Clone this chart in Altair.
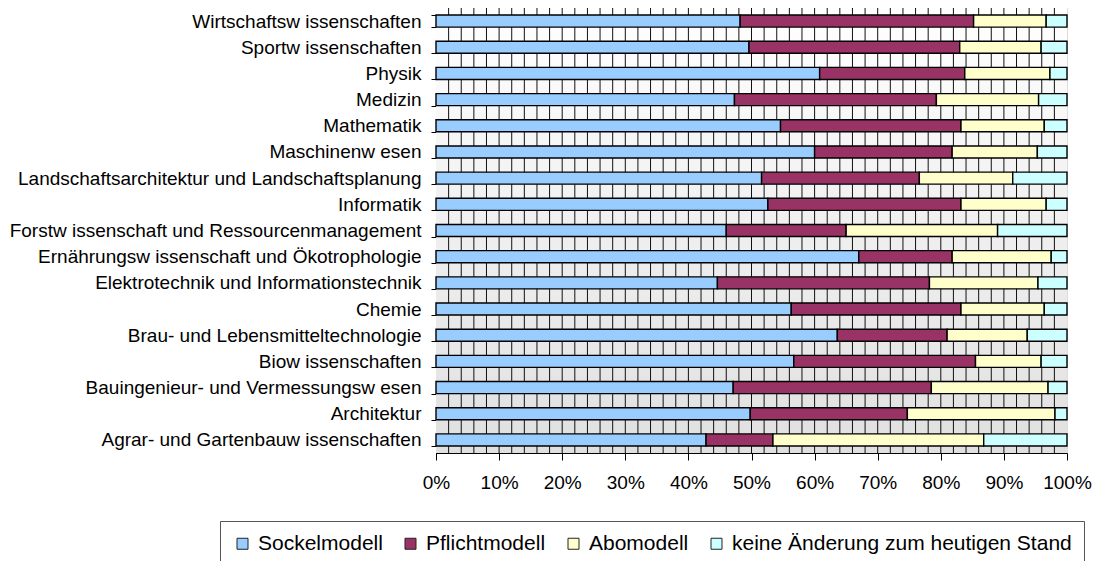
import altair as alt
import pandas as pd

CATEGORIES = [
    "Wirtschaftsw issenschaften",
    "Sportw issenschaften",
    "Physik",
    "Medizin",
    "Mathematik",
    "Maschinenw esen",
    "Landschaftsarchitektur und Landschaftsplanung",
    "Informatik",
    "Forstw issenschaft und Ressourcenmanagement",
    "Ernährungsw issenschaft und Ökotrophologie",
    "Elektrotechnik und Informationstechnik",
    "Chemie",
    "Brau- und Lebensmitteltechnologie",
    "Biow issenschaften",
    "Bauingenieur- und Vermessungsw esen",
    "Architektur",
    "Agrar- und Gartenbauw issenschaften",
]

SERIES = ["Sockelmodell", "Pflichtmodell", "Abomodell", "keine Änderung zum heutigen Stand"]
COLORS = ["#99CCFF", "#993366", "#FFFFCC", "#CCFFFF"]

SOCKEL = [48.2, 49.6, 60.8, 47.3, 54.6, 60.0, 51.6, 52.6, 46.0, 67.0, 44.6, 56.3, 63.6, 56.7, 47.1, 49.8, 42.8]
PFLICHT = [37.0, 33.4, 23.0, 32.0, 28.6, 21.8, 25.0, 30.6, 19.0, 14.8, 33.6, 26.9, 17.4, 28.8, 31.4, 24.9, 10.6]
ABO = [11.5, 12.9, 13.5, 16.2, 13.2, 13.5, 14.8, 13.5, 24.0, 15.7, 17.2, 13.2, 12.7, 10.4, 18.5, 23.4, 33.4]
KEINE = [3.3, 4.1, 2.7, 4.5, 3.6, 4.7, 8.6, 3.3, 11.0, 2.5, 4.6, 3.6, 6.3, 4.1, 3.0, 1.9, 13.2]

X_TICKS = [0, 0.1, 0.2, 0.3, 0.4, 0.5, 0.6, 0.7, 0.8, 0.9, 1.0]
GRID_LINES = [i / 50 for i in range(1, 50)]

rows = []
for si, (name, vals) in enumerate(zip(SERIES, [SOCKEL, PFLICHT, ABO, KEINE])):
    for cat, v in zip(CATEGORIES, vals):
        rows.append({"cat": cat, "series": name, "value": v, "idx": si})
df = pd.DataFrame(rows)
grid_df = pd.DataFrame({"g": GRID_LINES})

W, H = 631, 445
FONT = "Liberation Sans"

xscale = alt.Scale(domain=[0, 1], nice=False, zero=True)
xaxis = alt.Axis(
    values=X_TICKS, format="%", grid=False, title=None,
    labelFont=FONT, labelFontSize=19, labelColor="black", labelPadding=13,
    labelOverlap=False, labelFlush=False, labelBound=False,
    tickColor="black", tickSize=7, domainColor="black",
)

background = alt.Chart(alt.Data(values=[{}])).mark_rect(
    color=alt.Gradient(
        gradient="linear",
        stops=[alt.GradientStop(color="#ffffff", offset=0), alt.GradientStop(color="#e0e0e0", offset=1)],
        x1=0, x2=0, y1=0, y2=1,
    )
).encode(x=alt.value(0), x2=alt.value("width"), y=alt.value(0), y2=alt.value("height"))

grid = alt.Chart(grid_df).mark_rule(color="#111111", strokeWidth=1).encode(
    x=alt.X("g:Q", scale=xscale, axis=xaxis, title=None),
    y=alt.value(0),
    y2=alt.value("height"),
)

bars = alt.Chart(df).mark_bar(stroke="black", strokeWidth=1.4).encode(
    y=alt.Y(
        "cat:N",
        sort=CATEGORIES,
        title=None,
        scale=alt.Scale(paddingInner=0.54, paddingOuter=0.27),
        axis=alt.Axis(
            labelFont=FONT, labelFontSize=19, labelColor="black", labelPadding=10,
            tickBand="extent", tickColor="black", tickSize=5, domainColor="black",
            labelLimit=600,
        ),
    ),
    x=alt.X("value:Q", stack="normalize", scale=xscale, axis=xaxis, title=None),
    color=alt.Color(
        "series:N",
        scale=alt.Scale(domain=SERIES, range=COLORS),
        sort=SERIES,
        legend=alt.Legend(
            title=None, orient="none", direction="horizontal", legendX=-216, legendY=513,
            labelFont=FONT, labelFontSize=21, labelColor="black", labelOffset=5,
            symbolType="square", symbolSize=121, symbolStrokeColor="#222222", symbolStrokeWidth=1,
            columnPadding=17, padding=12, strokeColor="#555555", fillColor="white",
            labelLimit=500,
        ),
    ),
    order=alt.Order("idx:Q", sort="ascending"),
)

chart = alt.layer(background, grid, bars).properties(
    width=W, height=H,
    autosize=alt.AutoSizeParams(type="none"),
    padding={"left": 428, "top": 0, "right": 26, "bottom": 110},
).configure_view(stroke="#bdbdbd", strokeWidth=1).configure(background="white")

chart.save("out.html", embed_options={"renderer": "svg", "actions": False})
